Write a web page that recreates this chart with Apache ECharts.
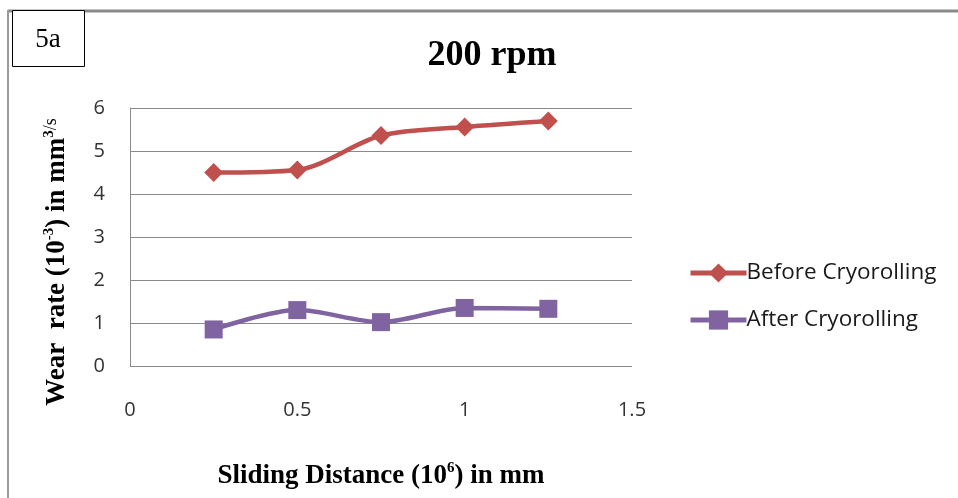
<!DOCTYPE html>
<html><head><meta charset="utf-8">
<script src="https://cdn.jsdelivr.net/npm/echarts@6/dist/echarts.min.js"></script>
<style>html,body{margin:0;padding:0;background:#fff}#c{width:958px;height:498px}</style>
</head><body><div id="c"></div>
<script>
const xValues = [0.25, 0.5, 0.75, 1.0, 1.25];
const beforeCryo = [4.5, 4.56, 5.36, 5.56, 5.7];
const afterCryo = [0.85, 1.3, 1.02, 1.35, 1.33];
const seriesNames = ['Before Cryorolling', 'After Cryorolling'];
const titleText = '200 rpm';
const panelLabel = '5a';
const yTitle = '{a|Wear  rate (10}{s|-3}{a|) in mm}{s|3}{n|/s}';
const xTitle = '{a|Sliding Distance (10}{s|6}{a|) in mm}';

const chart = echarts.init(document.getElementById('c'), null, {renderer: 'canvas'});
const serif = '"Liberation Serif", "Times New Roman", serif';
const sans = '"Open Sans", Lato, sans-serif';
const titleRich = {
  a: {fontFamily: serif, fontWeight: 'bold', fontSize: 27, fill: '#000', color: '#000', lineHeight: 30},
  s: {fontFamily: serif, fontWeight: 'bold', fontSize: 15, fill: '#000', color: '#000', verticalAlign: 'top', lineHeight: 30},
  n: {fontFamily: serif, fontSize: 18, fill: '#000', color: '#000', verticalAlign: 'top', lineHeight: 30}
};
chart.setOption({
  animation: false,
  backgroundColor: '#fff',
  title: {
    text: titleText, left: 487, top: 33, textAlign: 'center',
    textStyle: {fontFamily: serif, fontWeight: 'bold', fontSize: 36, color: '#000'}
  },
  legend: {
    orient: 'vertical', left: 683, top: 256, itemWidth: 56, itemHeight: 24, itemGap: 23,
    textStyle: {fontFamily: sans, fontSize: 22.5, color: '#1a1a1a', padding: [0,0,0,-5], lineHeight: 24},
    lineStyle: {width: 5},
    data: seriesNames
  },
  grid: {left: 130, right: 326, top: 108, bottom: 132},
  xAxis: {
    type: 'value', min: 0, max: 1.5, interval: 0.5,
    axisLine: {show: false}, axisTick: {show: false}, splitLine: {show: false},
    axisLabel: {margin: 34, fontFamily: sans, fontSize: 20, color: '#333'},
    name: xTitle,
    nameLocation: 'middle', nameGap: 95,
    nameTextStyle: {rich: titleRich}
  },
  yAxis: {
    type: 'value', min: 0, max: 6, interval: 1,
    axisLine: {show: true, lineStyle: {color: '#8a8a8a', width: 1}},
    axisTick: {show: false},
    splitLine: {lineStyle: {color: '#8a8a8a', width: 1}},
    axisLabel: {margin: 25, fontFamily: sans, fontSize: 20, color: '#333'}
  },
  series: [
    {
      name: seriesNames[0], type: 'line', smooth: 0.3,
      data: xValues.map((x, i) => [x, beforeCryo[i]]),
      symbol: 'diamond', symbolSize: 19,
      lineStyle: {color: '#C0504D', width: 4.5},
      itemStyle: {color: '#C0504D'}
    },
    {
      name: seriesNames[1], type: 'line', smooth: 0.3,
      data: xValues.map((x, i) => [x, afterCryo[i]]),
      symbol: 'rect', symbolSize: 18,
      lineStyle: {color: '#8064A2', width: 4.5},
      itemStyle: {color: '#8064A2'}
    }
  ],
  graphic: [
    {type: 'line', shape: {x1: 8, y1: 11, x2: 958, y2: 11}, style: {stroke: '#8a8a8a', lineWidth: 3}},
    {type: 'line', shape: {x1: 8, y1: 10, x2: 8, y2: 498}, style: {stroke: '#9a9a9a', lineWidth: 2}},
    {type: 'rect', shape: {x: 12.5, y: 10.5, width: 72, height: 56}, style: {fill: '#fff', stroke: '#000', lineWidth: 1}},
    {type: 'text', x: 48, y: 40, style: {text: panelLabel, fontFamily: serif, fontSize: 27, fill: '#000', align: 'center', verticalAlign: 'middle'}},
    {type: 'text', x: 57, y: 262, rotation: Math.PI / 2,
      style: {text: yTitle, rich: titleRich, align: 'center', verticalAlign: 'middle', fill: '#000'}}
  ]
});
</script></body></html>
